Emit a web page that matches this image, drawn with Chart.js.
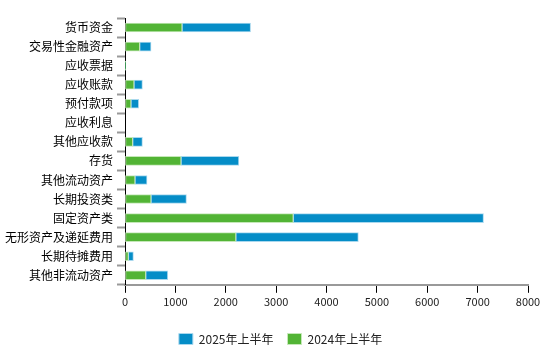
<!DOCTYPE html>
<html>
<head>
<meta charset="utf-8">
<script src="https://cdn.jsdelivr.net/npm/chart.js@4.4.1/dist/chart.umd.min.js"></script>
<style>
  html, body { margin: 0; padding: 0; background: #fff; }
  #wrap { width: 560px; height: 346px; }
</style>
</head>
<body>
<div id="wrap"><canvas id="chart" width="560" height="346"></canvas></div>
<script>
// 类目
const categories = ['货币资金', '交易性金融资产', '应收票据', '应收账款', '预付款项', '应收利息', '其他应收款',
  '存货', '其他流动资产', '长期投资类', '固定资产类', '无形资产及递延费用', '长期待摊费用', '其他非流动资产'];

// 2024年上半年 (绿, 在下)
const h1_2024 = [1133, 292, 5, 179, 119, 0, 153, 1113, 199, 517, 3340, 2201, 67, 412];
// 2025年上半年 (蓝, 叠在上面)
const h1_2025 = [1360, 225, 5, 167, 153, 0, 193, 1147, 238, 703, 3777, 2431, 100, 437];

const xTicks = [0, 1000, 2000, 3000, 4000, 5000, 6000, 7000, 8000];

const font = "'Noto Sans CJK SC', 'Noto Sans', sans-serif";

document.addEventListener('DOMContentLoaded', function () {
  const ctx = document.getElementById('chart').getContext('2d');

  new Chart(ctx, {
    type: 'bar',
    data: {
      labels: categories,
      datasets: [
        {
          label: '2024年上半年',
          data: h1_2024,
          backgroundColor: '#52b435',
          borderColor: '#c5e8b8',
          borderWidth: 1,
          borderSkipped: false,
          barThickness: 9
        },
        {
          label: '2025年上半年',
          data: h1_2025,
          backgroundColor: '#058dc7',
          borderColor: '#a9d8ee',
          borderWidth: 1,
          borderSkipped: false,
          barThickness: 9
        }
      ]
    },
    options: {
      indexAxis: 'y',
      responsive: false,
      animation: false,
      layout: { padding: { left: 1, right: 0, top: 18, bottom: 0 } },
      scales: {
        x: {
          stacked: true,
          min: 0,
          max: 8000,
          afterBuildTicks: function (axis) { axis.ticks = xTicks.map(v => ({ value: v })); },
          afterFit: function (axis) {
            axis.height += 9;
            axis.paddingRight = 32;
          },
          border: { color: '#999', width: 2 },
          grid: { drawOnChartArea: false, tickLength: 8, color: '#000', tickWidth: 1 },
          ticks: { color: '#222', font: { family: font, size: 11 }, padding: 2, callback: v => String(v) }
        },
        y: {
          stacked: true,
          border: { color: '#000', width: 1 },
          grid: { drawOnChartArea: false, tickLength: 8, color: '#999', tickWidth: 2, offset: true },
          ticks: { color: '#000', font: { family: font, size: 12 }, padding: 4 }
        }
      },
      plugins: {
        tooltip: { enabled: false },
        legend: {
          position: 'bottom',
          reverse: true,
          maxHeight: 27,
          labels: {
            boxWidth: 14,
            boxHeight: 11,
            padding: 14,
            color: '#222',
            font: { family: font, size: 12 }
          }
        }
      }
    }
  });
});
</script>
</body>
</html>
